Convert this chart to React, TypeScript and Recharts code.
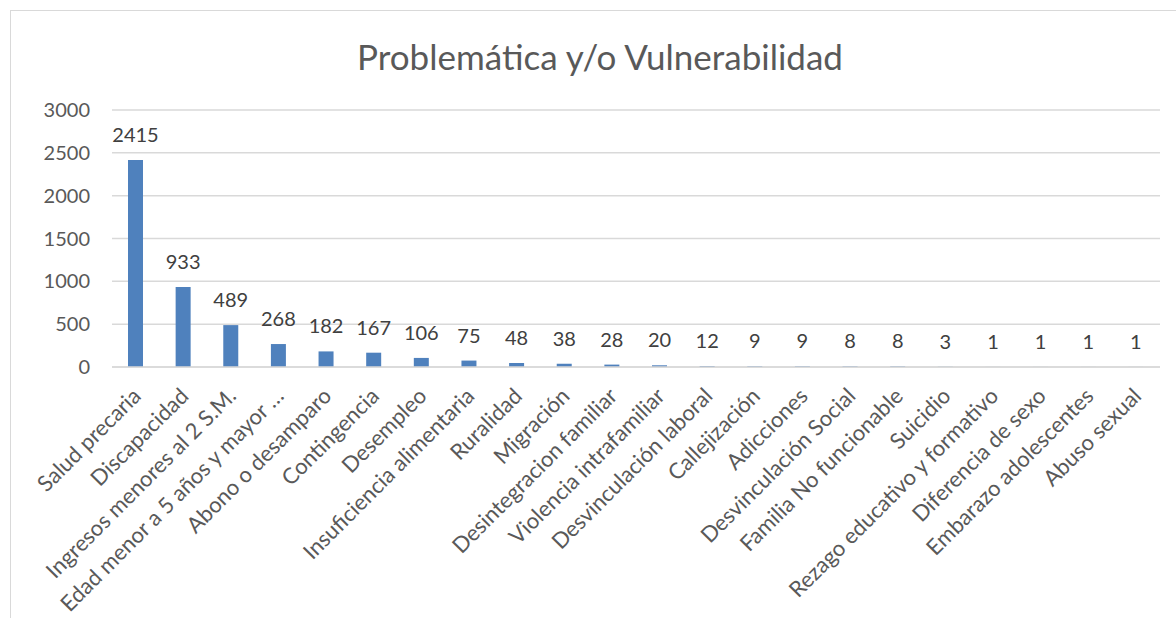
import React from "react";
import { BarChart, Bar, XAxis, YAxis, CartesianGrid, LabelList } from "recharts";

const categories = [
  "Salud precaria",
  "Discapacidad",
  "Ingresos menores al 2 S.M.",
  "Edad menor a 5 años y mayor …",
  "Abono o desamparo",
  "Contingencia",
  "Desempleo",
  "Insuficiencia alimentaria",
  "Ruralidad",
  "Migración",
  "Desintegracion familiar",
  "Violencia intrafamiliar",
  "Desvinculación laboral",
  "Callejización",
  "Adicciones",
  "Desvinculación Social",
  "Familia No funcionable",
  "Suicidio",
  "Rezago educativo y formativo",
  "Diferencia de sexo",
  "Embarazo adolescentes",
  "Abuso sexual",
];

const values = [2415, 933, 489, 268, 182, 167, 106, 75, 48, 38, 28, 20, 12, 9, 9, 8, 8, 3, 1, 1, 1, 1];

const yTicks = [0, 500, 1000, 1500, 2000, 2500, 3000];

const title = "Problemática y/o Vulnerabilidad";

const data = categories.map((name, i) => ({ name, value: values[i] }));

const FONT = "Lato, 'Open Sans', sans-serif";

const CatTick = (props: any) => {
  const { x, y, payload } = props;
  return (
    <g transform={`translate(${x + 1},${y + 17})`}>
      <text
        transform="rotate(-45)"
        textAnchor="end"
        fill="#595959"
        fontSize={22}
        fontFamily={FONT}
        dy="0.35em"
      >
        {payload.value}
      </text>
    </g>
  );
};

export default function App() {
  return (
    <div style={{ position: "absolute", left: 0, top: 0, width: 1176, height: 618, background: "#fff", overflow: "hidden" }}>
      <div
        style={{
          position: "absolute",
          left: 10,
          top: 10,
          width: 1200,
          height: 700,
          border: "1px solid #d9d9d9",
          boxSizing: "border-box",
        }}
      />
      <div
        style={{
          position: "absolute",
          left: 0,
          top: 34,
          width: 1200,
          textAlign: "center",
          fontFamily: FONT,
          fontSize: 35,
          color: "#595959",
          lineHeight: "44px",
        }}
      >
        {title}
      </div>
      <div style={{ position: "absolute", left: 0, top: 0 }}>
        <BarChart
          width={1176}
          height={618}
          data={data}
          margin={{ top: 110, right: 16, left: 32, bottom: 0 }}
        >
          <CartesianGrid vertical={false} stroke="#d9d9d9" strokeWidth={1.5} />
          <XAxis
            dataKey="name"
            interval={0}
            tick={<CatTick />}
            tickLine={false}
            axisLine={{ stroke: "#d9d9d9", strokeWidth: 1.5 }}
            height={251}
          />
          <YAxis
            domain={[0, 3000]}
            ticks={yTicks}
            axisLine={false}
            tickLine={false}
            width={80}
            tickMargin={16}
            tick={{ fill: "#595959", fontSize: 20, fontFamily: FONT }}
          />
          <Bar dataKey="value" fill="#4f81bd" barSize={15} isAnimationActive={false}>
            <LabelList
              dataKey="value"
              position="top"
              offset={18}
              fill="#404040"
              fontSize={20}
              fontFamily={FONT}
            />
          </Bar>
        </BarChart>
      </div>
    </div>
  );
}
